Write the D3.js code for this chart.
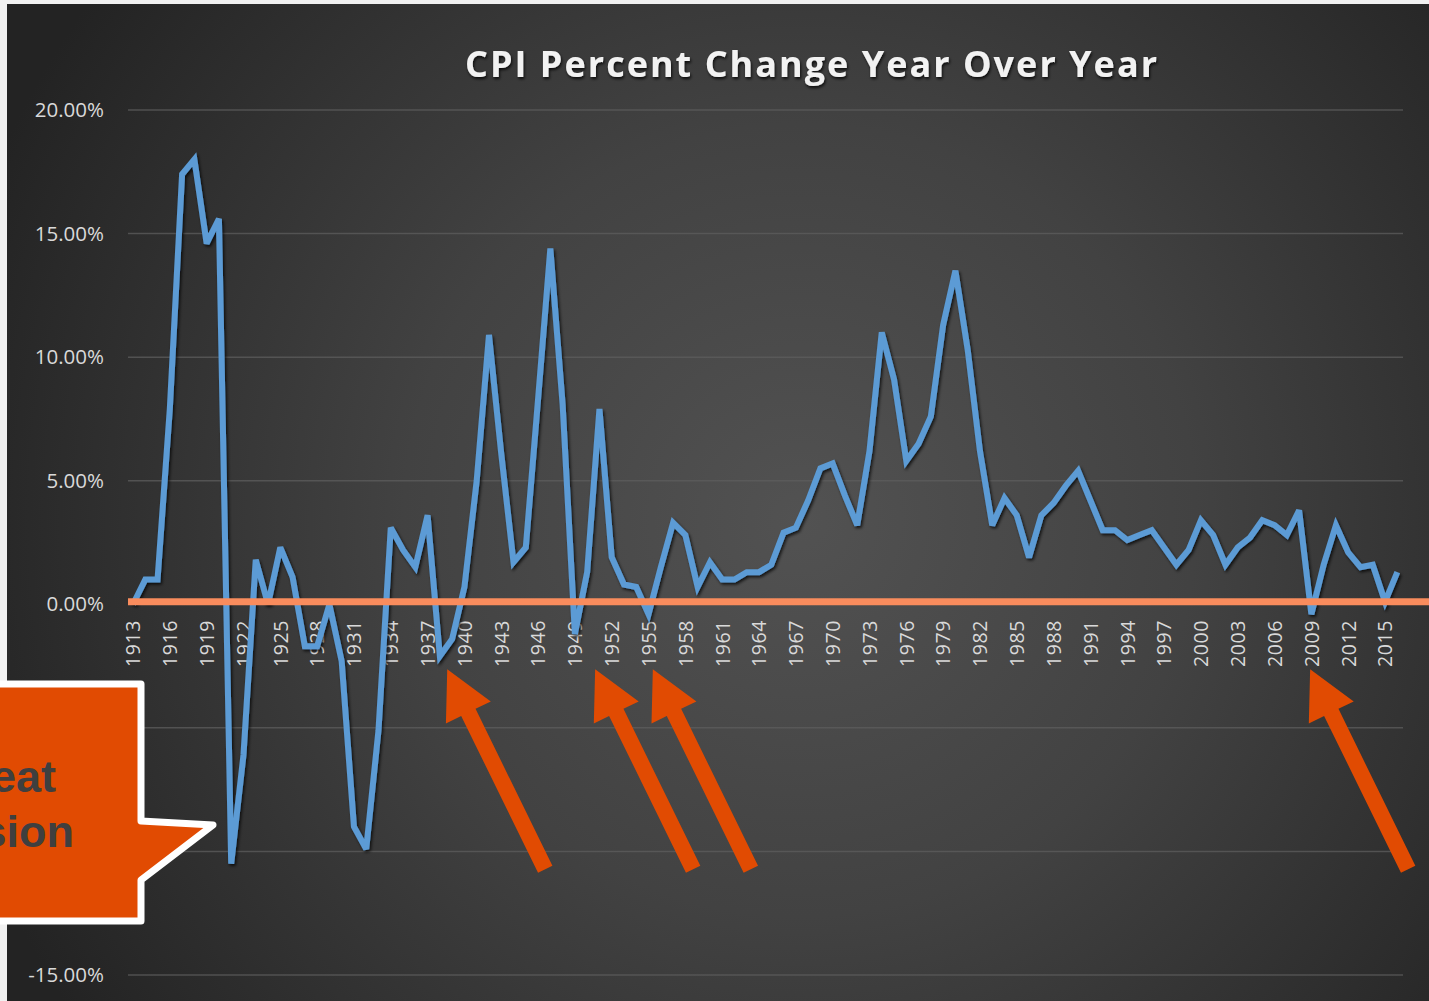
<!DOCTYPE html>
<html><head><meta charset="utf-8">
<script src="https://cdn.jsdelivr.net/npm/d3@7"></script>
<style>html,body{margin:0;padding:0;background:#f0f0f0;overflow:hidden}</style>
</head><body>
<svg id="chart" width="1429" height="1001"></svg>
<script>
// ---- data ----
const years = [1913,1914,1915,1916,1917,1918,1919,1920,1921,1922,1923,1924,1925,1926,1927,1928,1929,1930,1931,1932,1933,1934,1935,1936,1937,1938,1939,1940,1941,1942,1943,1944,1945,1946,1947,1948,1949,1950,1951,1952,1953,1954,1955,1956,1957,1958,1959,1960,1961,1962,1963,1964,1965,1966,1967,1968,1969,1970,1971,1972,1973,1974,1975,1976,1977,1978,1979,1980,1981,1982,1983,1984,1985,1986,1987,1988,1989,1990,1991,1992,1993,1994,1995,1996,1997,1998,1999,2000,2001,2002,2003,2004,2005,2006,2007,2008,2009,2010,2011,2012,2013,2014,2015,2016];
const cpiChange = [0.0,1.0,1.0,7.9,17.4,18.0,14.6,15.6,-10.5,-6.1,1.8,0.0,2.3,1.1,-1.7,-1.7,0.0,-2.3,-9.0,-9.9,-5.1,3.1,2.2,1.5,3.6,-2.1,-1.4,0.7,5.0,10.9,6.1,1.7,2.3,8.3,14.4,8.1,-1.2,1.3,7.9,1.9,0.8,0.7,-0.4,1.5,3.3,2.8,0.7,1.7,1.0,1.0,1.3,1.3,1.6,2.9,3.1,4.2,5.5,5.7,4.4,3.2,6.2,11.0,9.1,5.8,6.5,7.6,11.3,13.5,10.3,6.2,3.2,4.3,3.6,1.9,3.6,4.1,4.8,5.4,4.2,3.0,3.0,2.6,2.8,3.0,2.3,1.6,2.2,3.4,2.8,1.6,2.3,2.7,3.4,3.2,2.8,3.8,-0.4,1.6,3.2,2.1,1.5,1.6,0.1,1.3];
const gridTicks = [-15,-10,-5,0,5,10,15,20];
const yLabelTicks = [-15,0,5,10,15,20]; // -5 and -10 labels are hidden behind the callout in the reference
const xTickYears = [1913,1916,1919,1922,1925,1928,1931,1934,1937,1940,1943,1946,1949,1952,1955,1958,1961,1964,1967,1970,1973,1976,1979,1982,1985,1988,1991,1994,1997,2000,2003,2006,2009,2012,2015];
const title = "CPI Percent Change Year Over Year";
const calloutLines = ["Great", "Depression"];
const arrowTipYears = [1938.6, 1950.65, 1955.35, 2008.9];

// ---- layout ----
const svg = d3.select("#chart");
const W = 1429, H = 1001;
const x = d3.scaleLinear().domain([1913, 2016]).range([133, 1397.3]);
const y = d3.scaleLinear().domain([-15, 20]).range([975, 110]);

const defs = svg.append("defs");
const rg = defs.append("radialGradient").attr("id","bg").attr("gradientUnits","userSpaceOnUse")
  .attr("cx",800).attr("cy",520).attr("r",880);
rg.append("stop").attr("offset",0).attr("stop-color","#525252");
rg.append("stop").attr("offset",0.45).attr("stop-color","#424242");
rg.append("stop").attr("offset",1).attr("stop-color","#232323");

const sh = defs.append("filter").attr("id","shadow").attr("x","-10%").attr("y","-10%").attr("width","120%").attr("height","120%");
sh.append("feDropShadow").attr("dx",1.5).attr("dy",2).attr("stdDeviation",1.5).attr("flood-color","#000").attr("flood-opacity",0.75);
const tsh = defs.append("filter").attr("id","tshadow");
tsh.append("feDropShadow").attr("dx",1).attr("dy",2).attr("stdDeviation",1.5).attr("flood-color","#000").attr("flood-opacity",0.8);

// frame + panel
svg.append("rect").attr("width",W).attr("height",H).attr("fill","#f1f1f1");
svg.append("rect").attr("x",7).attr("y",4).attr("width",W-7).attr("height",H-4).attr("fill","url(#bg)");

// title
svg.append("text").attr("x",811).attr("y",77).attr("text-anchor","middle")
  .attr("font-family","'Open Sans', sans-serif").attr("font-weight",700).attr("font-size",36)
  .attr("fill","#f2f2f2").attr("textLength",692).attr("lengthAdjust","spacing")
  .attr("filter","url(#tshadow)").text(title);

// grid lines
svg.append("g").selectAll("line").data(gridTicks.filter(d => d !== 0)).join("line")
  .attr("x1",128).attr("x2",1403).attr("y1",d=>y(d)).attr("y2",d=>y(d))
  .attr("stroke","#5e5e5e").attr("stroke-opacity",0.75).attr("stroke-width",1.5);

// y labels
const yAxis = d3.axisLeft(y).tickValues(yLabelTicks).tickSize(0).tickPadding(0)
  .tickFormat(d => d.toFixed(2) + "%");
const gy = svg.append("g").attr("transform","translate(104,0)").call(yAxis);
gy.select(".domain").remove();
gy.selectAll("text").attr("font-family","'Open Sans', sans-serif").attr("font-size",20.5)
  .attr("fill","#d9d9d9").attr("dx",0);

// x labels
const xAxis = d3.axisBottom(x).tickValues(xTickYears).tickSize(0).tickFormat(d3.format("d"));
const gx = svg.append("g").attr("transform","translate(0,620)").call(xAxis);
gx.select(".domain").remove();
gx.selectAll("text").attr("font-family","'Open Sans', sans-serif").attr("font-size",19.5)
  .attr("fill","#d9d9d9").attr("transform","rotate(-90)").attr("text-anchor","end")
  .attr("x",0).attr("y",0).attr("dy","0.35em").attr("letter-spacing",0.6);

// data line
const line = d3.line().x((d,i)=>x(years[i])).y(d=>y(d));
svg.append("path").datum(cpiChange).attr("d",line).attr("fill","none")
  .attr("stroke","#5b9bd5").attr("stroke-width",6).attr("stroke-linejoin","miter").attr("stroke-miterlimit",3)
  .attr("filter","url(#shadow)");

// zero line (orange)
svg.append("line").attr("x1",128).attr("x2",W).attr("y1",y(0)-2.5).attr("y2",y(0)-2.5)
  .attr("stroke","#f98c5d").attr("stroke-width",7);

// arrows
const tipY = y(-2.63);
const dxT = 98, dyT = 200, L = Math.hypot(dxT,dyT);
const ux = -dxT/L, uy = -dyT/L, nx = -uy, ny = ux;
const headLen = 48, headHalf = 25, shaftHalf = 8;
svg.append("g").selectAll("path").data(arrowTipYears).join("path")
  .attr("fill","#e14b02")
  .attr("d", yr => {
    const tx = x(yr), ty = tipY;
    const bx = tx - ux*headLen, by = ty - uy*headLen;
    const ex = tx + dxT, ey = ty + dyT;
    const p = [
      [tx,ty],
      [bx + nx*headHalf, by + ny*headHalf],
      [bx + nx*shaftHalf, by + ny*shaftHalf],
      [ex + nx*shaftHalf, ey + ny*shaftHalf],
      [ex - nx*shaftHalf, ey - ny*shaftHalf],
      [bx - nx*shaftHalf, by - ny*shaftHalf],
      [bx - nx*headHalf, by - ny*headHalf]
    ];
    return "M" + p.map(q=>q.join(",")).join("L") + "Z";
  });

// callout
svg.append("path").attr("d","M-20,684 L141,684 L141,821 L213,825 L141,880 L141,921 L-20,921 Z")
  .attr("fill","#e14b02").attr("stroke","#ffffff").attr("stroke-width",7).attr("stroke-linejoin","round");
const ct = svg.append("g").attr("font-family","'Liberation Sans', Arial, sans-serif").attr("font-weight","bold")
  .attr("font-size",45).attr("fill","#3f3f3f").attr("text-anchor","end");
ct.append("text").attr("x",56).attr("y",792).text(calloutLines[0]);
ct.append("text").attr("x",74).attr("y",847).text(calloutLines[1]);
</script>
</body></html>
